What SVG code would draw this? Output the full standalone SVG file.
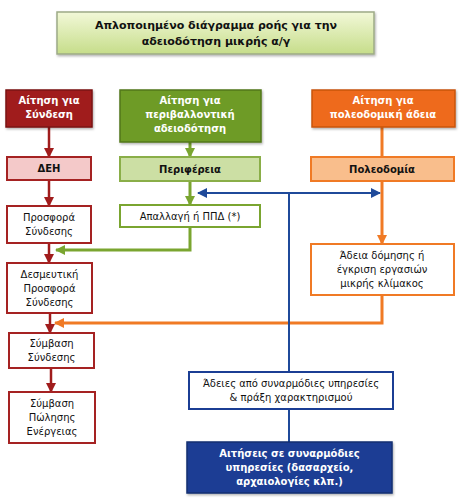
<svg xmlns="http://www.w3.org/2000/svg" width="462" height="504" viewBox="0 0 462 504">
<defs>
<linearGradient id="tg" x1="0" y1="0" x2="0" y2="1">
<stop offset="0" stop-color="#F2F8D8"/>
<stop offset="1" stop-color="#C6DD8A"/>
</linearGradient>
<filter id="sh" x="-10%" y="-10%" width="130%" height="140%">
<feDropShadow dx="1" dy="1.5" stdDeviation="1" flood-color="#000" flood-opacity="0.3"/>
</filter>
<marker id="ar" markerUnits="userSpaceOnUse" markerWidth="10" markerHeight="10" viewBox="0 0 10 10" refX="9" refY="5" orient="auto"><path d="M0,0 L10,5 L0,10 z" fill="#A01C1C"/></marker>
<marker id="ag" markerUnits="userSpaceOnUse" markerWidth="10" markerHeight="10" viewBox="0 0 10 10" refX="9" refY="5" orient="auto"><path d="M0,0 L10,5 L0,10 z" fill="#7AA530"/></marker>
<marker id="ao" markerUnits="userSpaceOnUse" markerWidth="10" markerHeight="10" viewBox="0 0 10 10" refX="9" refY="5" orient="auto"><path d="M0,0 L10,5 L0,10 z" fill="#F07A25"/></marker>
<marker id="ab" markerUnits="userSpaceOnUse" markerWidth="10" markerHeight="10" viewBox="0 0 10 10" refX="9" refY="5" orient="auto-start-reverse"><path d="M0,0 L10,5 L0,10 z" fill="#1F4A9A"/></marker>
</defs>
<style>
text{font-family:"DejaVu Sans",Verdana,sans-serif;font-size:10px;text-anchor:middle;fill:#111}
.b{font-weight:bold}
.w{fill:#fff;font-weight:bold}
.title{font-size:11px;font-weight:bold}
.hr{fill:#A01C1C;stroke:#7A1010;stroke-width:1.5}
.pr{fill:#F4C9C9;stroke:#A52222;stroke-width:2}
.wr{fill:#fff;stroke:#A52222;stroke-width:2}
.hg{fill:#6E9B25;stroke:#52771A;stroke-width:1.5}
.lg{fill:#CCDFA4;stroke:#8AAE48;stroke-width:2}
.wg{fill:#fff;stroke:#7AA530;stroke-width:2}
.ho{fill:#EE6B1A;stroke:#C8550F;stroke-width:1.5}
.lo{fill:#F9BE8C;stroke:#F07A25;stroke-width:2}
.wo{fill:#fff;stroke:#F07A25;stroke-width:2}
.wb{fill:#fff;stroke:#1B3E94;stroke-width:2}
.db{fill:#1B3E94;stroke:#142F70;stroke-width:1.5}
.cr{fill:none;stroke:#A01C1C;stroke-width:2.5}
.cg{fill:none;stroke:#7AA530;stroke-width:3}
.co{fill:none;stroke:#F07A25;stroke-width:3}
.cb{fill:none;stroke:#1F4A9A;stroke-width:2}
</style>
<rect width="462" height="504" fill="#fff"/>
<g id="connectors">
<line class="cr" x1="49" y1="127" x2="49" y2="157" marker-end="url(#ar)"/>
<line class="cr" x1="49" y1="180" x2="49" y2="206" marker-end="url(#ar)"/>
<line class="cr" x1="49" y1="243" x2="49" y2="263" marker-end="url(#ar)"/>
<line class="cr" x1="50" y1="313" x2="50" y2="333" marker-end="url(#ar)"/>
<line class="cr" x1="51" y1="368" x2="51" y2="392" marker-end="url(#ar)"/>
<line class="cg" x1="190" y1="142" x2="190" y2="157" marker-end="url(#ag)"/>
<line class="cg" x1="190" y1="181" x2="190" y2="205" marker-end="url(#ag)"/>
<polyline class="cg" points="190,227 190,250 56,250" marker-end="url(#ag)"/>
<line class="co" x1="382" y1="127" x2="382" y2="157"/>
<line class="co" x1="382" y1="181" x2="382" y2="244" marker-end="url(#ao)"/>
<polyline class="co" points="382,295 382,323 55,323" marker-end="url(#ao)"/>
<line class="cb" x1="198" y1="193" x2="380" y2="193" marker-start="url(#ab)" marker-end="url(#ab)"/>
<line class="cb" x1="289" y1="193" x2="289" y2="372"/>
<line class="cb" x1="289" y1="409" x2="289" y2="442"/>
</g>
<g id="title">
<rect x="57" y="12" width="317" height="42" fill="url(#tg)" stroke="#9DAA86" stroke-width="1.5" filter="url(#sh)"/>
<text class="title" x="216" y="29">Απλοποιημένο διάγραμμα ροής για την</text>
<text class="title" x="216" y="45">αδειοδότηση μικρής α/γ</text>
</g>
<g id="n-aitisi-syndesi">
<rect class="hr" x="6" y="90" width="86" height="37" filter="url(#sh)"/>
<text class="w" x="49" y="104">Αίτηση για</text>
<text class="w" x="49" y="118">Σύνδεση</text>
</g>
<g id="n-aitisi-perival">
<rect class="hg" x="120" y="90" width="141" height="52" filter="url(#sh)"/>
<text class="w" x="190" y="104">Αίτηση για</text>
<text class="w" x="190" y="118">περιβαλλοντική</text>
<text class="w" x="190" y="132">αδειοδότηση</text>
</g>
<g id="n-aitisi-poleod">
<rect class="ho" x="312" y="90" width="143" height="37" filter="url(#sh)"/>
<text class="w" x="383" y="104">Αίτηση για</text>
<text class="w" x="383" y="118">πολεοδομική άδεια</text>
</g>
<g id="n-deh">
<rect class="pr" x="7" y="157" width="84" height="23"/>
<text class="b" x="49" y="172">ΔΕΗ</text>
</g>
<g id="n-perifereia">
<rect class="lg" x="120" y="157" width="140" height="24"/>
<text class="b" x="190" y="172.5">Περιφέρεια</text>
</g>
<g id="n-poleodomia">
<rect class="lo" x="311" y="157" width="143" height="24"/>
<text class="b" x="382" y="172.5">Πολεοδομία</text>
</g>
<g id="n-prosfora">
<rect class="wr" x="7" y="206" width="84" height="37"/>
<text x="49" y="221">Προσφορά</text>
<text x="49" y="235">Σύνδεσης</text>
</g>
<g id="n-apallagi">
<rect class="wg" x="120" y="205" width="140" height="22"/>
<text x="190" y="220">Απαλλαγή ή ΠΠΔ (*)</text>
</g>
<g id="n-adeia-domisis">
<rect class="wo" x="311" y="244" width="143" height="51"/>
<text x="382" y="259">Άδεια δόμησης ή</text>
<text x="382" y="273">έγκριση εργασιών</text>
<text x="382" y="287">μικρής κλίμακος</text>
</g>
<g id="n-desmeutiki">
<rect class="wr" x="7" y="263" width="85" height="50"/>
<text x="49.5" y="278">Δεσμευτική</text>
<text x="49.5" y="292">Προσφορά</text>
<text x="49.5" y="306">Σύνδεσης</text>
</g>
<g id="n-symvasi-syndesis">
<rect class="wr" x="9" y="333" width="85" height="35"/>
<text x="51.5" y="347">Σύμβαση</text>
<text x="51.5" y="361">Σύνδεσης</text>
</g>
<g id="n-symvasi-polisis">
<rect class="wr" x="9" y="392" width="86" height="51"/>
<text x="52" y="407">Σύμβαση</text>
<text x="52" y="421">Πώλησης</text>
<text x="52" y="435">Ενέργειας</text>
</g>
<g id="n-adeies">
<rect class="wb" x="189" y="372" width="204" height="37"/>
<text x="291" y="387">Άδειες από συναρμόδιες υπηρεσίες</text>
<text x="291" y="401">&amp; πράξη χαρακτηρισμού</text>
</g>
<g id="n-aitiseis">
<rect class="db" x="187" y="442" width="205" height="51" filter="url(#sh)"/>
<text class="w" x="289.5" y="457">Αιτήσεις σε συναρμόδιες</text>
<text class="w" x="289.5" y="471">υπηρεσίες (δασαρχείο,</text>
<text class="w" x="289.5" y="485">αρχαιολογίες κλπ.)</text>
</g>
</svg>
